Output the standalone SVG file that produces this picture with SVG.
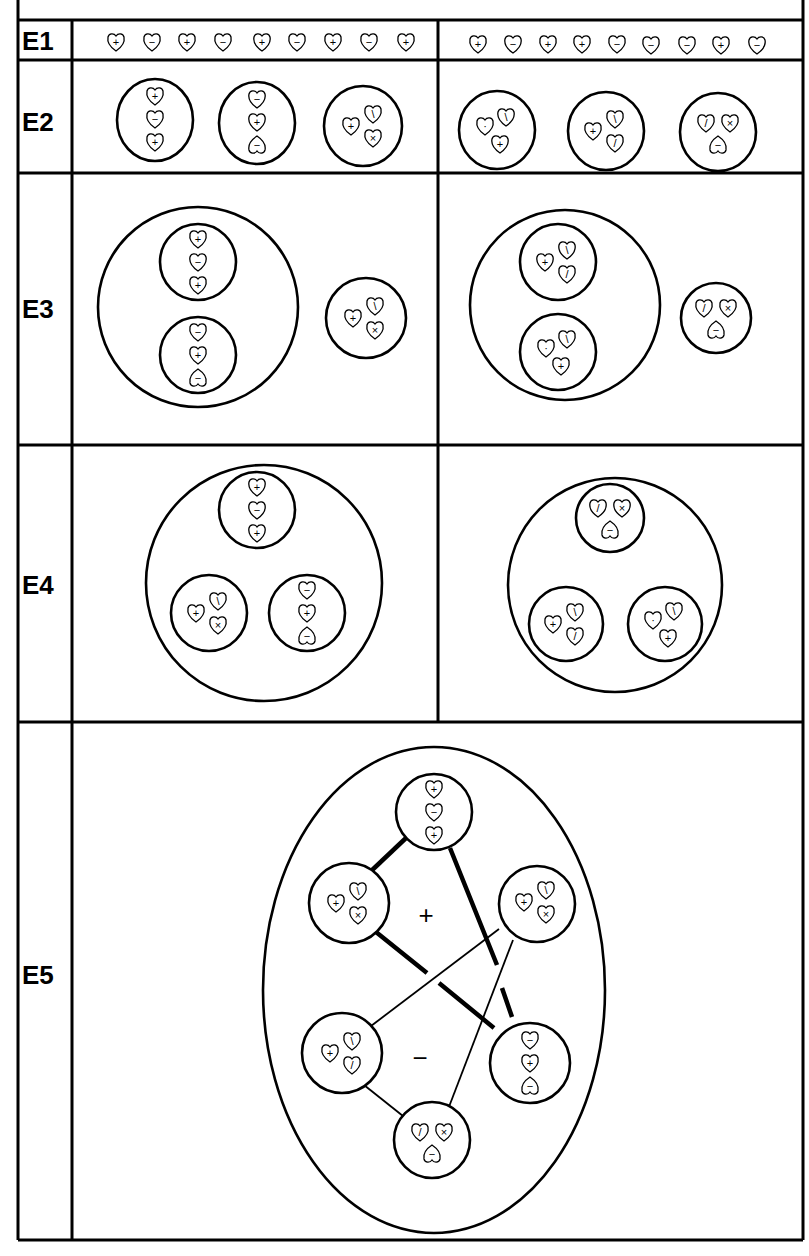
<svg xmlns="http://www.w3.org/2000/svg" xmlns:xlink="http://www.w3.org/1999/xlink" width="809" height="1256" viewBox="0 0 809 1256">
<style>
.f{fill:none;stroke:#000;stroke-width:3}
.c{fill:#fff;stroke:#000;stroke-width:2.6}
.h{fill:#fff;stroke:#000;stroke-width:1.3}
.s{font-family:"Liberation Sans",sans-serif;font-size:11px;text-anchor:middle;dominant-baseline:central;fill:#000}
.lab{font-family:"Liberation Sans",sans-serif;font-weight:bold;font-size:26px;fill:#000}
.big{font-family:"Liberation Sans",sans-serif;font-size:26px;text-anchor:middle;dominant-baseline:central;fill:#000}
.k{stroke:#000;stroke-width:4.5;fill:none}
.t{stroke:#000;stroke-width:1.8;fill:none}
</style>
<defs>
<path id="h" class="h" d="M0,9 C-6,5 -9,0 -8,-5 C-7,-9 -2,-9 0,-6 C2,-9 7,-9 8,-5 C9,0 6,5 0,9 Z"/>
<path id="hu" class="h" d="M0,-9 C-6,-5 -9,0 -8,5 C-7,9 -2,9 0,6 C2,9 7,9 8,5 C9,0 6,-5 0,-9 Z"/>
<g id="V1"><use href="#h" y="-23"/><text class="s" y="-23">+</text><use href="#h"/><text class="s">−</text><use href="#h" y="23"/><text class="s" y="23">+</text></g>
<g id="V2"><use href="#h" y="-23"/><text class="s" y="-23">−</text><use href="#h"/><text class="s">+</text><use href="#hu" y="23"/><text class="s" y="23">−</text></g>
<g id="T1"><use href="#h" x="-13"/><text class="s" x="-13">+</text><use href="#h" x="9" y="-12"/><text class="s" x="9" y="-12">\</text><use href="#h" x="9" y="12"/><text class="s" x="9" y="12">×</text></g>
<g id="T2"><use href="#h" x="-12" y="-4"/><text class="s" x="-12" y="-4">·</text><use href="#h" x="9" y="-13"/><text class="s" x="9" y="-13">\</text><use href="#h" x="3" y="14"/><text class="s" x="3" y="14">+</text></g>
<g id="T3"><use href="#h" x="-13"/><text class="s" x="-13">+</text><use href="#h" x="9" y="-12"/><text class="s" x="9" y="-12">\</text><use href="#h" x="9" y="12"/><text class="s" x="9" y="12">/</text></g>
<g id="T4"><use href="#h" x="-12" y="-8"/><text class="s" x="-12" y="-8">/</text><use href="#h" x="12" y="-8"/><text class="s" x="12" y="-8">×</text><use href="#hu" y="14"/><text class="s" y="14">−</text></g>
</defs>
<rect width="809" height="1256" fill="#fff"/>
<g id="grid">
<path class="f" d="M18,0 V1240 M803,0 V1240 M18,20 H803 M18,60 H803 M18,173 H803 M18,445 H803 M18,722 H803 M18,1240 H803 M72,20 V1240 M438,20 V722"/>
<text class="lab" x="22" y="50">E1</text>
<text class="lab" x="22" y="131">E2</text>
<text class="lab" x="22" y="318">E3</text>
<text class="lab" x="22" y="594">E4</text>
<text class="lab" x="22" y="984">E5</text>
</g>
<g id="E1">
<use href="#h" x="116" y="42"/><text class="s" x="116" y="42">+</text>
<use href="#h" x="152" y="42"/><text class="s" x="152" y="42">−</text>
<use href="#h" x="187" y="42"/><text class="s" x="187" y="42">+</text>
<use href="#h" x="223" y="42"/><text class="s" x="223" y="42">−</text>
<use href="#h" x="262" y="42"/><text class="s" x="262" y="42">+</text>
<use href="#h" x="297" y="42"/><text class="s" x="297" y="42">−</text>
<use href="#h" x="333" y="42"/><text class="s" x="333" y="42">+</text>
<use href="#h" x="369" y="42"/><text class="s" x="369" y="42">−</text>
<use href="#h" x="406" y="42"/><text class="s" x="406" y="42">+</text>
<use href="#h" x="478" y="44"/><text class="s" x="478" y="44">+</text>
<use href="#h" x="513" y="44"/><text class="s" x="513" y="44">−</text>
<use href="#h" x="548" y="44"/><text class="s" x="548" y="44">+</text>
<use href="#h" x="582" y="44"/><text class="s" x="582" y="44">+</text>
<use href="#h" x="617" y="44"/><text class="s" x="617" y="44">−</text>
<use href="#h" x="651" y="45"/><text class="s" x="651" y="45">−</text>
<use href="#h" x="687" y="45"/><text class="s" x="687" y="45">−</text>
<use href="#h" x="721" y="45"/><text class="s" x="721" y="45">+</text>
<use href="#h" x="757" y="45"/><text class="s" x="757" y="45">−</text>
</g>
<g id="E2">
<ellipse class="c" cx="155" cy="120" rx="38" ry="41"/><use href="#V1" x="155" y="119"/>
<ellipse class="c" cx="257" cy="123" rx="38" ry="41"/><use href="#V2" x="257" y="122"/>
<ellipse class="c" cx="363" cy="126" rx="39" ry="40"/><use href="#T1" x="364" y="126"/>
<ellipse class="c" cx="497" cy="130" rx="38" ry="39"/><use href="#T2" x="497" y="130"/>
<ellipse class="c" cx="606" cy="131" rx="38" ry="39"/><use href="#T3" x="606" y="131"/>
<ellipse class="c" cx="718" cy="132" rx="38" ry="39"/><use href="#T4" x="718" y="131"/>
</g>
<g id="E3">
<circle class="c" cx="198" cy="307" r="100"/>
<circle class="c" cx="198" cy="262" r="38"/><use href="#V1" x="198" y="262"/>
<circle class="c" cx="198" cy="355" r="38"/><use href="#V2" x="198" y="355"/>
<circle class="c" cx="366" cy="318" r="40"/><use href="#T1" x="366" y="318"/>
<circle class="c" cx="565" cy="305" r="95"/>
<circle class="c" cx="558" cy="262" r="38"/><use href="#T3" x="558" y="262"/>
<circle class="c" cx="558" cy="352" r="38"/><use href="#T2" x="558" y="352"/>
<circle class="c" cx="716" cy="318" r="35"/><use href="#T4" x="716" y="316"/>
</g>
<g id="E4">
<circle class="c" cx="264" cy="583" r="118"/>
<circle class="c" cx="257" cy="510" r="38"/><use href="#V1" x="257" y="510"/>
<circle class="c" cx="209" cy="613" r="38"/><use href="#T1" x="209" y="613"/>
<circle class="c" cx="307" cy="613" r="38"/><use href="#V2" x="307" y="613"/>
<circle class="c" cx="615" cy="585" r="107"/>
<circle class="c" cx="610" cy="518" r="34"/><use href="#T4" x="610" y="516"/>
<circle class="c" cx="566" cy="624" r="37"/><use href="#T3" x="566" y="624"/>
<circle class="c" cx="665" cy="624" r="37"/><use href="#T2" x="665" y="624"/>
</g>
<g id="E5">
<ellipse class="c" cx="434" cy="990" rx="171" ry="243"/>
</g>
<g id="connectors">
<path class="k" d="M406,838 L369,873"/>
<path class="k" d="M371,928 L427,973 M439,983 L494,1028"/>
<path class="k" d="M450,848 L497,965 M502,988 L512,1017"/>
<path class="t" d="M499,929 L371,1026"/>
<path class="t" d="M513,940 L447,1112"/>
<path class="t" d="M364,1085 L408,1120"/>
</g>
<g id="E5nodes">
<circle class="c" cx="434" cy="812" r="38"/><use href="#V1" x="434" y="812"/>
<circle class="c" cx="349" cy="903" r="40"/><use href="#T1" x="349" y="903"/>
<circle class="c" cx="537" cy="904" r="38"/><use href="#T1" x="537" y="902"/>
<circle class="c" cx="342" cy="1053" r="40"/><use href="#T3" x="343" y="1053"/>
<circle class="c" cx="530" cy="1063" r="40"/><use href="#V2" x="530" y="1063"/>
<circle class="c" cx="432" cy="1140" r="38"/><use href="#T4" x="432" y="1140"/>
<text class="big" x="426" y="915">+</text>
<text class="big" x="420" y="1058">−</text>
</g>
</svg>
